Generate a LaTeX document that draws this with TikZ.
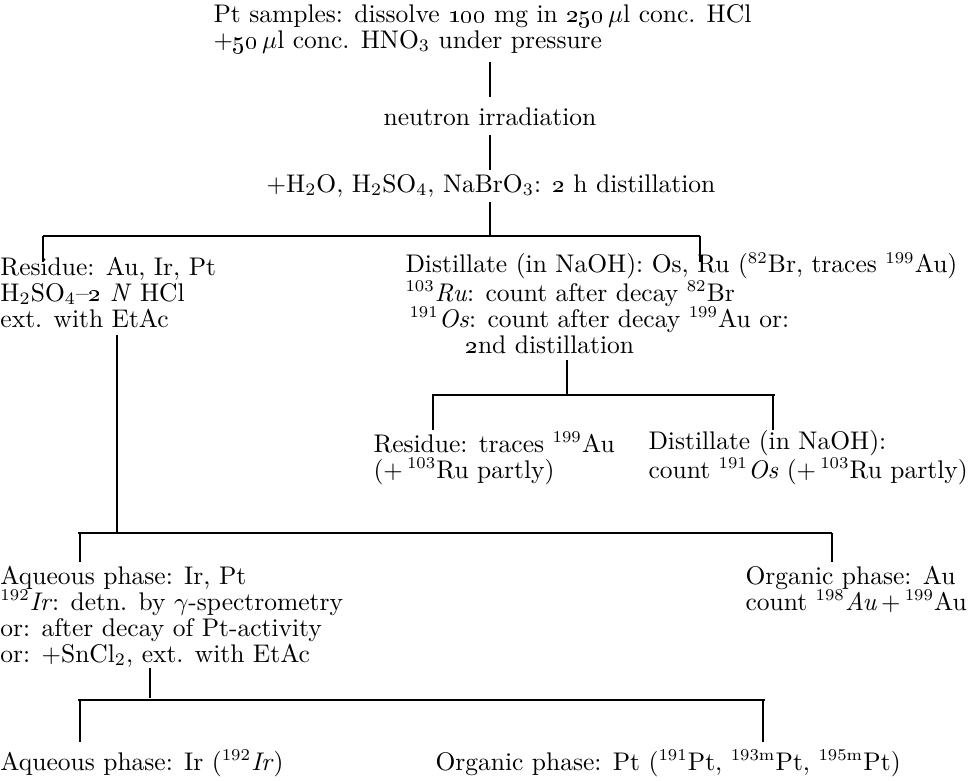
\documentclass[tikz,border=0pt]{standalone}
\newdimen\pxu
\pxu=0.4pt
\newcommand{\hpx}[1]{\hspace*{#1\pxu}}
\newcommand{\iso}[1]{\textsuperscript{\fontsize{6.6}{7}\selectfont #1}}
\begin{document}
\begin{tikzpicture}[x=0.4pt,y=-0.4pt,
  lbl/.style={anchor=base west, inner sep=0pt, align=left, font=\fontsize{10.2}{10.4}\selectfont},
  clbl/.style={anchor=base, inner sep=0pt, align=center, font=\fontsize{10.2}{10.4}\selectfont},
  conn/.style={line width=0.5pt, black}]
\useasboundingbox (0,0) rectangle (970,780);
% text blocks (anchor = baseline of the last line)
\node[lbl] (top) at (213,48) {Pt samples: dissolve \oldstylenums{100} mg in \oldstylenums{250}\,$\mu$l conc. HCl\\
  $+$\oldstylenums{50}\,$\mu$l conc. HNO$_3$ under pressure};
\node[clbl] (irr) at (490,125) {neutron irradiation};
\node[clbl] (dis) at (491,192) {$+$H$_2$O, H$_2$SO$_4$, NaBrO$_3$: \oldstylenums{2} h distillation};
\node[lbl] (res) at (0,327) {Residue: Au, Ir, Pt\\
  H$_2$SO$_4$--\oldstylenums{2} \textit{N} HCl\\
  ext. with EtAc};
\node[lbl] (dst) at (405,353) {Distillate (in NaOH): Os, Ru (\iso{82}Br, traces \iso{199}Au)\\
  \iso{103}\textit{Ru}: count after decay \iso{82}Br\\
  \hpx{4}\iso{191}\textit{Os}: count after decay \iso{199}Au or:\\
  \hpx{60}\oldstylenums{2}nd distillation};
\node[lbl] (resb) at (373,478) {Residue: traces \iso{199}Au\\
  ($+\,$\iso{103}Ru partly)};
\node[lbl] (dstb) at (648,478) {Distillate (in NaOH):\\
  count \iso{191}\textit{Os} ($+\,$\iso{103}Ru partly)};
\node[lbl] (aq) at (0,662) {Aqueous phase: Ir, Pt\\
  \iso{192}\textit{Ir}: detn. by $\gamma$-spectrometry\\
  or: after decay of Pt-activity\\
  or: $+$SnCl$_2$, ext. with EtAc};
\node[lbl] (org) at (745,610) {Organic phase: Au\\
  count \iso{198}\textit{Au}$\,+\,$\iso{199}Au};
\node[lbl] (aqb) at (0,770) {Aqueous phase: Ir (\iso{192}\textit{Ir})};
\node[lbl] (orgb) at (435,770) {Organic phase: Pt (\iso{191}Pt, \iso{193m}Pt, \iso{195m}Pt)};
% junction coordinates
\coordinate (a1) at (490,62);  \coordinate (a2) at (490,97);
\coordinate (b1) at (490,135); \coordinate (b2) at (490,170);
\coordinate (c1) at (490,202); \coordinate (c2) at (490,236);
\coordinate (cl) at (43,236);  \coordinate (cr) at (700,236);
\coordinate (clb) at (43,262); \coordinate (crb) at (700,262);
\coordinate (d1) at (117,335); \coordinate (d2) at (117,533);
\coordinate (e1) at (567,360); \coordinate (e2) at (567,395);
\coordinate (el) at (432,395); \coordinate (er) at (775,395);
\coordinate (elt) at (433,395); \coordinate (elb) at (433,430);
\coordinate (ert) at (773,395); \coordinate (erb) at (773,430);
\coordinate (fl) at (78,533);  \coordinate (fr) at (832,533);
\coordinate (flt) at (80,533); \coordinate (flb) at (80,562);
\coordinate (frb) at (832,562);
\coordinate (g1) at (150,668); \coordinate (g2) at (150,698);
\coordinate (gl) at (78,700);  \coordinate (gr) at (765,700);
\coordinate (glt) at (80,700); \coordinate (glb) at (80,742);
\coordinate (grt) at (763,700); \coordinate (grb) at (763,742);
% connectors
\draw[conn] (a1) -- (a2);
\draw[conn] (b1) -- (b2);
\draw[conn] (c1) -- (c2);
\draw[conn] (cl) -- (cr);
\draw[conn] (cl) -- (clb);
\draw[conn] (cr) -- (crb);
\draw[conn] (d1) -- (d2);
\draw[conn] (e1) -- (e2);
\draw[conn] (el) -- (er);
\draw[conn] (elt) -- (elb);
\draw[conn] (ert) -- (erb);
\draw[conn] (fl) -- (fr);
\draw[conn] (flt) -- (flb);
\draw[conn] (fr) -- (frb);
\draw[conn] (g1) -- (g2);
\draw[conn] (gl) -- (gr);
\draw[conn] (glt) -- (glb);
\draw[conn] (grt) -- (grb);
\end{tikzpicture}
\end{document}
